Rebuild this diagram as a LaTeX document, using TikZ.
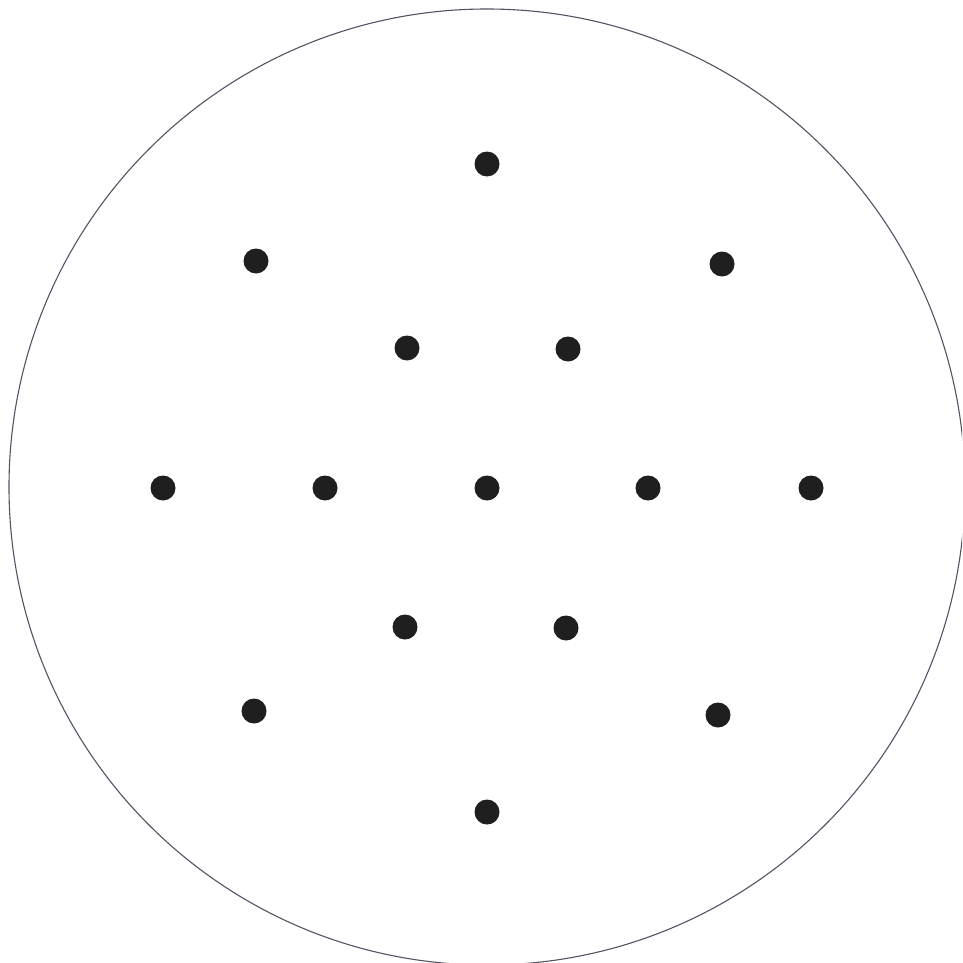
\documentclass[tikz,border=0pt]{standalone}
\begin{document}
\begin{tikzpicture}[x=1pt,y=-1pt,
  dot/.style={circle,fill=black!88,inner sep=0pt,minimum size=25pt}]
\definecolor{rimcol}{RGB}{85,82,100}
\path[use as bounding box,fill=white] (0,0) rectangle (962,963);
\begin{scope}
\clip (0,0) rectangle (962,963);
\draw[line width=1.1pt,color=rimcol] (487,487) circle[radius=478];
\end{scope}
\node[dot] (d1) at (487,164) {};
\node[dot] (d2) at (256,261) {};
\node[dot] (d3) at (722,264) {};
\node[dot] (d4) at (407,348) {};
\node[dot] (d5) at (568,349) {};
\node[dot] (d6) at (163,488) {};
\node[dot] (d7) at (325,488) {};
\node[dot] (d8) at (487,488) {};
\node[dot] (d9) at (648,488) {};
\node[dot] (d10) at (811,488) {};
\node[dot] (d11) at (405,627) {};
\node[dot] (d12) at (566,628) {};
\node[dot] (d13) at (254,711) {};
\node[dot] (d14) at (718,715) {};
\node[dot] (d15) at (487,812) {};
\end{tikzpicture}
\end{document}
